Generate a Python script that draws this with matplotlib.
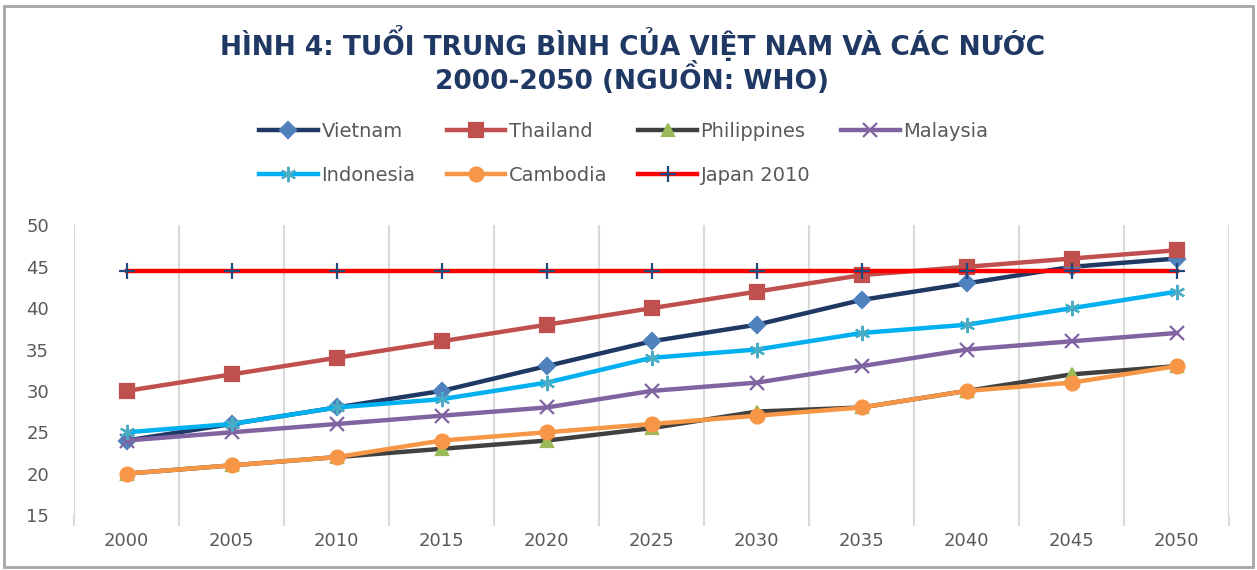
import matplotlib.pyplot as plt
import numpy as np

years = ["2000", "2005", "2010", "2015", "2020", "2025", "2030", "2035", "2040", "2045", "2050"]
vietnam = [24, 26, 28, 30, 33, 36, 38, 41, 43, 45, 46]
thailand = [30, 32, 34, 36, 38, 40, 42, 44, 45, 46, 47]
philippines = [20, 21, 22, 23, 24, 25.5, 27.5, 28, 30, 32, 33]
malaysia = [24, 25, 26, 27, 28, 30, 31, 33, 35, 36, 37]
indonesia = [25, 26, 28, 29, 31, 34, 35, 37, 38, 40, 42]
cambodia = [20, 21, 22, 24, 25, 26, 27, 28, 30, 31, 33]
japan_2010 = [44.5] * 11

fig = plt.figure(figsize=(12.57, 5.7), dpi=100)
ax = fig.add_axes([0.059, 0.0965, 0.919, 0.508])

x = np.arange(len(years))
series = [
    ("Vietnam", vietnam, "#1F3864", "D", "#4F81BD", 8),
    ("Thailand", thailand, "#C0504D", "s", "#C0504D", 10),
    ("Philippines", philippines, "#404040", "^", "#9BBB59", 9),
    ("Malaysia", malaysia, "#8064A2", "x", "#8064A2", 10),
    ("Indonesia", indonesia, "#00B0F0", (6, 2, 0), "#4BACC6", 11),
    ("Cambodia", cambodia, "#F79646", "o", "#F79646", 10),
    ("Japan 2010", japan_2010, "#FF0000", "+", "#1F497D", 11),
]
handles = []
for name, vals, lc, mk, mc, ms in series:
    h, = ax.plot(x, vals, color=lc, lw=3.2, marker=mk, markersize=ms,
                 markerfacecolor=mc, markeredgecolor=mc, markeredgewidth=1.6,
                 label=name, zorder=3)
    handles.append(h)

ax.set_xlim(-0.5, len(years) - 0.5)
ax.set_ylim(15, 50)
ax.set_yticks(range(15, 51, 5))
ax.set_xticks(x)
ax.set_xticklabels(years)
ax.set_xticks(np.arange(-0.5, len(years)), minor=True)
ax.grid(True, axis="x", which="minor", color="#D9D9D9", lw=1.5)
ax.tick_params(axis="x", which="major", length=0, pad=12)
ax.tick_params(axis="x", which="minor", length=8, color="#D9D9D9", width=1.5)
ax.tick_params(axis="y", length=0, pad=18)
for lab in ax.get_xticklabels() + ax.get_yticklabels():
    lab.set_color("#595959")
    lab.set_fontsize(13)
for s in ax.spines.values():
    s.set_visible(False)

fig.text(0.503, 0.895, "HÌNH 4: TUỔI TRUNG BÌNH CỦA VIỆT NAM VÀ CÁC NƯỚC\n2000-2050 (NGUỒN: WHO)",
         ha="center", va="center", fontsize=19, fontweight="bold", color="#1F3864",
         linespacing=1.05)

# legend filled row by row like the original
order = [0, 4, 1, 5, 2, 6, 3]
fig.legend([handles[i] for i in order], [handles[i].get_label() for i in order],
           loc="upper left", bbox_to_anchor=(0.2, 0.80), ncol=4, frameon=False,
           fontsize=14, labelcolor="#595959", handlelength=3.0, columnspacing=1.6,
           handletextpad=0.2, labelspacing=1.3, borderaxespad=0)

fig.patches.append(plt.Rectangle((0.003, 0.005), 0.994, 0.985, transform=fig.transFigure,
                                 fill=False, edgecolor="#A6A6A6", lw=2))

fig.savefig("out.png", dpi=100)
